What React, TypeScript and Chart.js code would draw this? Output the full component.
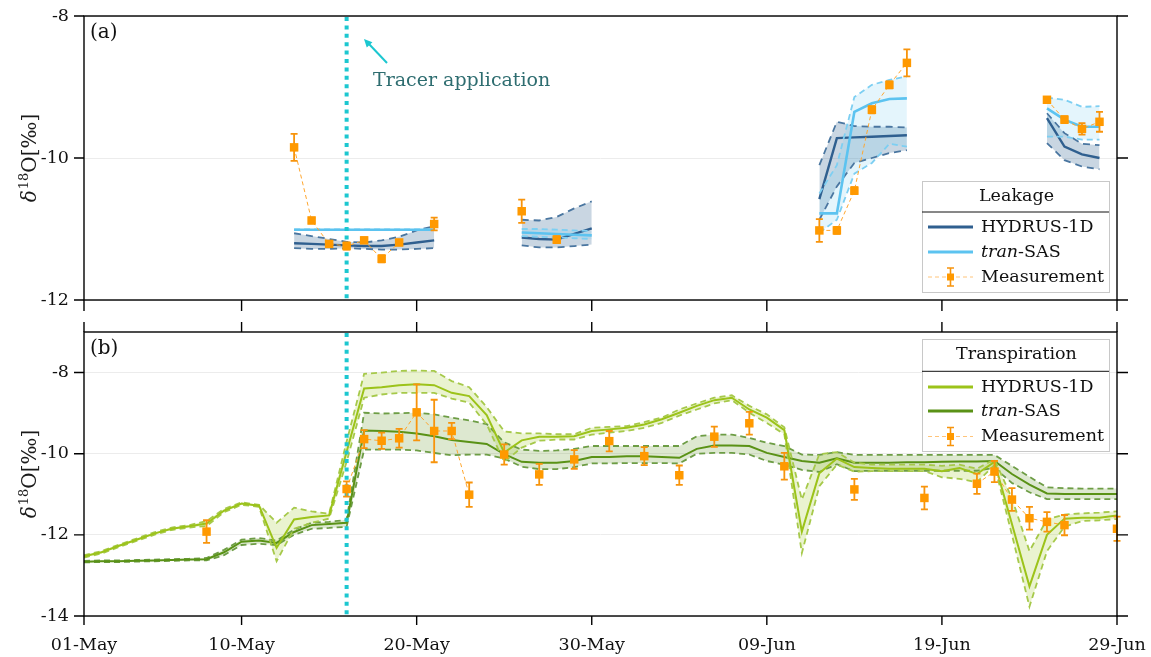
import { useEffect, useRef } from 'react';
import { Chart, registerables } from 'chart.js';

Chart.register(...registerables);

const FONT = '"DejaVu Serif", "Liberation Serif", serif';

// ---------- axes ----------
const X_TICKS = [0, 9, 19, 29, 39, 49, 59];
const X_TICK_LABELS = ['01-May', '10-May', '20-May', '30-May', '09-Jun', '19-Jun', '29-Jun'];
const TRACER_DAY = 15;
const Y_TICKS_A = [-12, -10, -8];
const Y_TICKS_B = [-14, -12, -10, -8];

// ---------- (a) Leakage ----------
const LEAK_DAYS = [
  [12, 13, 14, 15, 16, 17, 18, 19, 20],
  [25, 26, 27, 28, 29],
  [42, 43, 44, 45, 46, 47],
  [55, 56, 57, 58],
];
const LEAK_HYDRUS_MEAN = [
  [-11.2, -11.21, -11.22, -11.23, -11.24, -11.24, -11.22, -11.19, -11.16],
  [-11.12, -11.14, -11.15, -11.07, -10.99],
  [-10.58, -9.72, -9.71, -9.7, -9.69, -9.68],
  [-9.44, -9.84, -9.95, -10.0],
];
const LEAK_HYDRUS_UP = [
  [-11.06, -11.1, -11.14, -11.18, -11.19, -11.16, -11.11, -11.02, -10.96],
  [-10.87, -10.88, -10.83, -10.71, -10.61],
  [-10.1, -9.49, -9.55, -9.56, -9.56, -9.57],
  [-9.37, -9.65, -9.8, -9.82],
];
const LEAK_HYDRUS_LOW = [
  [-11.27, -11.28, -11.28, -11.27, -11.28, -11.29, -11.29, -11.28, -11.27],
  [-11.23, -11.26, -11.26, -11.24, -11.22],
  [-10.87, -10.4, -10.07, -10.0, -9.93, -9.89],
  [-9.79, -10.03, -10.12, -10.16],
];
const LEAK_TRAN_MEAN = [
  [-11.01, -11.01, -11.01, -11.01, -11.01, -11.01, -11.01, -11.01, -11.01],
  [-11.05, -11.06, -11.07, -11.08, -11.09],
  [-10.78, -10.78, -9.35, -9.23, -9.17, -9.16],
  [-9.3, -9.46, -9.56, -9.56],
];
const LEAK_TRAN_UP = [
  [-11.006, -11.006, -11.006, -11.006, -11.006, -11.006, -11.006, -11.006, -11.006],
  [-11.0, -11.0, -11.01, -11.02, -11.03],
  [-10.5, -10.1, -9.14, -8.97, -8.9, -8.85],
  [-9.15, -9.18, -9.28, -9.27],
];
const LEAK_TRAN_LOW = [
  [-11.014, -11.014, -11.014, -11.014, -11.014, -11.014, -11.014, -11.014, -11.014],
  [-11.1, -11.11, -11.12, -11.13, -11.14],
  [-11.05, -10.87, -10.22, -10.07, -9.8, -9.84],
  [-9.7, -9.7, -9.74, -9.74],
];
const LEAK_MEAS_DAYS = [12, 13, 14, 15, 16, 17, 18, 20, 25, 27, 42, 43, 44, 45, 46, 47, 55, 56, 57, 58];
const LEAK_MEAS_VALS = [-9.85, -10.88, -11.21, -11.24, -11.16, -11.42, -11.19, -10.93, -10.75, -11.15,
  -11.02, -11.02, -10.46, -9.32, -8.97, -8.66, -9.18, -9.46, -9.59, -9.49];
const LEAK_MEAS_ERR = [0.19, 0.04, 0.04, 0.05, 0.04, 0.05, 0.04, 0.09, 0.165, 0.05,
  0.16, 0.05, 0.05, 0.05, 0.05, 0.19, 0.04, 0.05, 0.08, 0.14];

// ---------- (b) Transpiration (daily, 01-May .. 29-Jun) ----------
const TR_DAYS = Array.from({ length: 60 }, (_, i) => i);
const TR_HYDRUS_MEAN = [
  -12.53, -12.43, -12.27, -12.12, -11.97, -11.85, -11.79, -11.72, -11.40, -11.23,
  -11.28, -12.32, -11.62, -11.56, -11.52, -9.95, -8.39, -8.36, -8.31, -8.29,
  -8.31, -8.50, -8.58, -9.05, -9.97, -9.67, -9.58, -9.58, -9.57, -9.44,
  -9.40, -9.36, -9.28, -9.15, -8.99, -8.82, -8.68, -8.62, -8.91, -9.11,
  -9.42, -11.92, -10.48, -10.12, -10.33, -10.35, -10.37, -10.37, -10.37, -10.43,
  -10.35, -10.50, -10.20, -11.73, -13.27, -12.00, -11.60, -11.58, -11.58, -11.52,
];
const TR_HYDRUS_UP = [
  -12.50, -12.40, -12.24, -12.09, -11.94, -11.82, -11.76, -11.66, -11.36, -11.20,
  -11.26, -11.70, -11.33, -11.42, -11.48, -9.70, -8.03, -8.00, -7.96, -7.95,
  -7.96, -8.21, -8.36, -8.85, -9.45, -9.50, -9.50, -9.52, -9.52, -9.36,
  -9.34, -9.32, -9.22, -9.11, -8.91, -8.76, -8.62, -8.56, -8.82, -9.03,
  -9.35, -11.13, -10.01, -9.96, -10.22, -10.27, -10.27, -10.27, -10.27, -10.30,
  -10.27, -10.37, -10.14, -11.10, -12.40, -11.62, -11.50, -11.47, -11.45, -11.42,
];
const TR_HYDRUS_LOW = [
  -12.56, -12.46, -12.30, -12.15, -12.00, -11.88, -11.82, -11.78, -11.44, -11.26,
  -11.31, -12.65, -11.85, -11.70, -11.60, -10.20, -8.62, -8.54, -8.50, -8.50,
  -8.50, -8.64, -8.74, -9.28, -10.20, -9.85, -9.68, -9.65, -9.65, -9.53,
  -9.48, -9.44, -9.36, -9.24, -9.06, -8.91, -8.76, -8.68, -8.99, -9.24,
  -9.52, -12.45, -10.80, -10.27, -10.44, -10.43, -10.43, -10.43, -10.43, -10.58,
  -10.62, -10.70, -10.28, -12.00, -13.77, -12.40, -11.80, -11.66, -11.64, -11.61,
];
const TR_TRAN_MEAN = [
  -12.66, -12.65, -12.65, -12.64, -12.63, -12.62, -12.61, -12.60, -12.43, -12.17,
  -12.14, -12.20, -11.93, -11.76, -11.73, -11.70, -9.43, -9.44, -9.46, -9.50,
  -9.57, -9.66, -9.71, -9.76, -10.01, -10.20, -10.22, -10.22, -10.18, -10.08,
  -10.08, -10.06, -10.06, -10.08, -10.10, -9.88, -9.80, -9.80, -9.81, -9.98,
  -10.08, -10.18, -10.22, -10.11, -10.22, -10.22, -10.22, -10.21, -10.21, -10.20,
  -10.19, -10.19, -10.18, -10.50, -10.76, -10.98, -10.99, -10.99, -10.99, -10.99,
];
const TR_TRAN_UP = [
  -12.64, -12.63, -12.63, -12.62, -12.61, -12.60, -12.59, -12.57, -12.37, -12.12,
  -12.08, -12.14, -11.87, -11.70, -11.68, -11.63, -8.99, -9.01, -9.00, -8.99,
  -9.03, -9.11, -9.18, -9.27, -9.72, -9.90, -9.93, -9.92, -9.88, -9.81,
  -9.81, -9.81, -9.81, -9.81, -9.81, -9.57, -9.53, -9.53, -9.61, -9.73,
  -9.81, -10.02, -10.03, -9.96, -10.03, -10.03, -10.03, -10.03, -10.03, -10.03,
  -10.03, -10.03, -10.03, -10.30, -10.57, -10.83, -10.85, -10.86, -10.86, -10.86,
];
const TR_TRAN_LOW = [
  -12.68, -12.67, -12.67, -12.66, -12.65, -12.64, -12.63, -12.63, -12.50, -12.25,
  -12.22, -12.25, -12.00, -11.85, -11.83, -11.80, -9.90, -9.90, -9.90, -9.92,
  -9.98, -10.04, -10.02, -10.02, -10.12, -10.32, -10.38, -10.38, -10.33, -10.24,
  -10.24, -10.23, -10.23, -10.23, -10.24, -10.00, -9.98, -9.98, -10.02, -10.18,
  -10.27, -10.40, -10.45, -10.26, -10.43, -10.42, -10.42, -10.42, -10.42, -10.42,
  -10.42, -10.42, -10.35, -10.72, -10.95, -11.12, -11.12, -11.12, -11.12, -11.12,
];
const TR_MEAS_DAYS = [7, 15, 16, 17, 18, 19, 20, 21, 22, 24, 26, 28, 30, 32, 34, 36, 38, 40, 44, 48, 51, 52, 53, 54, 55, 56, 59];
const TR_MEAS_VALS = [-11.92, -10.87, -9.64, -9.68, -9.62, -8.98, -9.44, -9.44, -11.01, -10.02, -10.51, -10.14,
  -9.69, -10.06, -10.53, -9.58, -9.25, -10.31, -10.88, -11.09, -10.74, -10.44, -11.13, -11.59, -11.68, -11.76, -11.85];
const TR_MEAS_ERR = [0.28, 0.19, 0.22, 0.2, 0.23, 0.69, 0.77, 0.2, 0.3, 0.25, 0.26, 0.23,
  0.25, 0.22, 0.24, 0.25, 0.28, 0.33, 0.26, 0.28, 0.25, 0.26, 0.28, 0.28, 0.24, 0.25, 0.3];

// ---------- styles ----------
const LEAK_H = { line: '#2f5f8f', dash: '#4a76a0', fill: 'rgba(47,95,143,0.26)', w: 2.4 };
const LEAK_T = { line: '#5cc3f0', dash: '#7dcff2', fill: 'rgba(120,205,240,0.2)', w: 2.6 };
const TR_H = { line: '#9cc31a', dash: '#a6c94a', fill: 'rgba(160,200,40,0.22)', w: 2 };
const TR_T = { line: '#5a9216', dash: '#6d9d45', fill: 'rgba(100,150,40,0.22)', w: 2 };
const ORANGE = '#ff9900';
const ORANGE_BAR = '#f7940c';
const CYAN = '#1cc7d0';
const TEXT = '#111';

function pts(days: number[], vals: number[]) {
  return days.map((d, i) => ({ x: d, y: vals[i] }));
}

function measPts(days: number[], vals: number[]) {
  const out: { x: number; y: number | null }[] = [];
  for (let d = 0; d <= 59; d++) {
    const i = days.indexOf(d);
    out.push({ x: d, y: i >= 0 ? vals[i] : null });
  }
  return out;
}

function addBand(list: any[], days: number[], mean: number[], up: number[], low: number[], col: any, order: number, dash: number[]) {
  const iUp = list.length;
  list.push({
    data: pts(days, up), borderColor: col.dash, borderWidth: 1.8, borderDash: dash,
    pointRadius: 0, fill: iUp + 1, backgroundColor: col.fill, order: order + 1,
  });
  list.push({
    data: pts(days, low), borderColor: col.dash, borderWidth: 1.8, borderDash: dash,
    pointRadius: 0, fill: false, order: order + 1,
  });
  list.push({
    data: pts(days, mean), borderColor: col.line, borderWidth: col.w, pointRadius: 0, fill: false, order,
  });
}

function measDataset(days: number[], vals: number[], err: number[]) {
  return {
    data: measPts(days, vals), borderColor: '#ffa62e', borderWidth: 1, borderDash: [4, 3],
    pointStyle: 'rect', pointRadius: 6, pointBackgroundColor: ORANGE, pointBorderColor: ORANGE,
    pointBorderWidth: 0, spanGaps: false, fill: false, order: 0,
    _meas: true, _days: days, _vals: vals, _err: err,
  };
}

function drawLegend(ctx: CanvasRenderingContext2D, box: number[], title: string, titleY: number, sepY: number,
  rowsY: number[], hCol: string, tCol: string) {
  const [x0, y0, x1, y1] = box;
  ctx.save();
  ctx.fillStyle = '#fff';
  ctx.fillRect(x0, y0, x1 - x0, y1 - y0);
  ctx.strokeStyle = '#c8c8c8';
  ctx.lineWidth = 1;
  ctx.strokeRect(x0 + 0.5, y0 + 0.5, x1 - x0, y1 - y0);
  ctx.strokeStyle = '#111';
  ctx.beginPath();
  ctx.moveTo(x0, sepY); ctx.lineTo(x1, sepY); ctx.stroke();
  ctx.fillStyle = TEXT;
  ctx.textBaseline = 'middle';
  ctx.textAlign = 'center';
  ctx.font = `17.5px ${FONT}`;
  ctx.fillText(title, (x0 + x1) / 2 + 1, titleY);
  ctx.textAlign = 'left';
  const lx0 = x0 + 6, lx1 = x0 + 51, tx = x0 + 59;
  ctx.strokeStyle = hCol; ctx.lineWidth = 3;
  ctx.beginPath(); ctx.moveTo(lx0, rowsY[0]); ctx.lineTo(lx1, rowsY[0]); ctx.stroke();
  ctx.fillText('HYDRUS-1D', tx, rowsY[0]);
  ctx.strokeStyle = tCol;
  ctx.beginPath(); ctx.moveTo(lx0, rowsY[1]); ctx.lineTo(lx1, rowsY[1]); ctx.stroke();
  ctx.font = `italic 17.5px ${FONT}`;
  ctx.fillText('tran', tx, rowsY[1]);
  const w = ctx.measureText('tran').width;
  ctx.font = `17.5px ${FONT}`;
  ctx.fillText('-SAS', tx + w, rowsY[1]);
  const ym = rowsY[2], xm = (lx0 + lx1) / 2;
  ctx.strokeStyle = '#ffc47a'; ctx.lineWidth = 1; ctx.setLineDash([4, 3]);
  ctx.beginPath(); ctx.moveTo(lx0, ym); ctx.lineTo(lx1, ym); ctx.stroke();
  ctx.setLineDash([]);
  ctx.strokeStyle = ORANGE_BAR; ctx.lineWidth = 1.6;
  ctx.beginPath();
  ctx.moveTo(xm, ym - 9); ctx.lineTo(xm, ym + 9);
  ctx.moveTo(xm - 3.5, ym - 9); ctx.lineTo(xm + 3.5, ym - 9);
  ctx.moveTo(xm - 3.5, ym + 9); ctx.lineTo(xm + 3.5, ym + 9);
  ctx.stroke();
  ctx.fillStyle = ORANGE;
  ctx.fillRect(xm - 3.5, ym - 3.5, 7, 7);
  ctx.fillStyle = TEXT;
  ctx.fillText('Measurement', tx, ym);
  ctx.restore();
}

function drawYTitle(ctx: CanvasRenderingContext2D, cx: number, cy: number) {
  ctx.save();
  ctx.translate(cx, cy);
  ctx.rotate(-Math.PI / 2);
  ctx.fillStyle = '#1a1a1a';
  ctx.textBaseline = 'alphabetic';
  ctx.textAlign = 'left';
  const f1 = `italic 20px ${FONT}`, f2 = `13px ${FONT}`, f3 = `20px ${FONT}`;
  ctx.font = f1; const w1 = ctx.measureText('δ').width;
  ctx.font = f2; const w2 = ctx.measureText('18').width;
  ctx.font = f3; const w3 = ctx.measureText('O[‰]').width;
  let x = -(w1 + w2 + w3 + 1) / 2;
  ctx.font = f1; ctx.fillText('δ', x, 0); x += w1 + 1;
  ctx.font = f2; ctx.fillText('18', x, -8); x += w2;
  ctx.font = f3; ctx.fillText('O[‰]', x, 0);
  ctx.restore();
}

function makeDecor(panel: 'a' | 'b') {
  const yTicks = panel === 'a' ? Y_TICKS_A : Y_TICKS_B;
  return {
    id: 'decor' + panel,
    beforeDatasetDraw(chart: any, args: any) {
      const ds = chart.data.datasets[args.index];
      if (!ds._meas) return;
      const { ctx, chartArea: ca, scales } = chart;
      ctx.save();
      const xc = scales.x.getPixelForValue(TRACER_DAY);
      ctx.strokeStyle = CYAN; ctx.lineWidth = 4; ctx.setLineDash([4, 4.4]);
      ctx.beginPath(); ctx.moveTo(xc, ca.top + 1); ctx.lineTo(xc, ca.bottom); ctx.stroke();
      ctx.setLineDash([]);
      ctx.strokeStyle = ORANGE_BAR; ctx.lineWidth = 1.8;
      ctx.beginPath();
      ds._days.forEach((d: number, i: number) => {
        const x = scales.x.getPixelForValue(d);
        const y1 = scales.y.getPixelForValue(ds._vals[i] + ds._err[i]);
        const y2 = scales.y.getPixelForValue(ds._vals[i] - ds._err[i]);
        ctx.moveTo(x, y1); ctx.lineTo(x, y2);
        ctx.moveTo(x - 3.5, y1); ctx.lineTo(x + 3.5, y1);
        ctx.moveTo(x - 3.5, y2); ctx.lineTo(x + 3.5, y2);
      });
      ctx.stroke();
      ctx.restore();
    },
    afterDraw(chart: any) {
      const { ctx, chartArea: ca, scales } = chart;
      ctx.save();
      ctx.strokeStyle = '#000'; ctx.lineWidth = 1.4;
      ctx.strokeRect(ca.left, ca.top, ca.right - ca.left, ca.bottom - ca.top);
      ctx.beginPath();
      yTicks.forEach((v) => {
        const y = scales.y.getPixelForValue(v);
        ctx.moveTo(ca.left - 10, y); ctx.lineTo(ca.left, y);
        ctx.moveTo(ca.right, y); ctx.lineTo(ca.right + 11, y);
      });
      X_TICKS.forEach((v) => {
        const x = scales.x.getPixelForValue(v);
        ctx.moveTo(x, ca.bottom); ctx.lineTo(x, ca.bottom + (panel === 'a' ? 11 : 9));
        if (panel === 'b') { ctx.moveTo(x, ca.top - 10); ctx.lineTo(x, ca.top); }
      });
      ctx.stroke();
      ctx.fillStyle = TEXT;
      ctx.font = `20px ${FONT}`;
      ctx.textAlign = 'left';
      ctx.textBaseline = 'alphabetic';
      ctx.fillText(panel === 'a' ? '(a)' : '(b)', ca.left + 6, ca.top + 22);
      drawYTitle(ctx, 36, (ca.top + ca.bottom) / 2);
      if (panel === 'a') {
        ctx.fillStyle = '#2e6d70';
        ctx.font = `19px ${FONT}`;
        ctx.fillText('Tracer application', 373, 86);
        ctx.strokeStyle = CYAN; ctx.fillStyle = CYAN; ctx.lineWidth = 2;
        ctx.beginPath(); ctx.moveTo(387, 63); ctx.lineTo(369, 44); ctx.stroke();
        const ang = Math.atan2(40 - 63, 365 - 387);
        ctx.beginPath();
        ctx.moveTo(364, 39);
        ctx.lineTo(364 - 9 * Math.cos(ang - 0.45), 39 - 9 * Math.sin(ang - 0.45));
        ctx.lineTo(364 - 9 * Math.cos(ang + 0.45), 39 - 9 * Math.sin(ang + 0.45));
        ctx.closePath(); ctx.fill();
        drawLegend(ctx, [922, 181, 1109, 292], 'Leakage', 196, 212, [227, 252, 277], LEAK_H.line, LEAK_T.line);
      } else {
        drawLegend(ctx, [922, 23, 1109, 135], 'Transpiration', 38.5, 55.3, [71, 95, 120.5], TR_H.line, TR_T.line);
      }
      ctx.restore();
    },
  };
}

function makeConfig(panel: 'a' | 'b'): any {
  const datasets: any[] = [];
  datasets.push(
    panel === 'a'
      ? measDataset(LEAK_MEAS_DAYS, LEAK_MEAS_VALS, LEAK_MEAS_ERR)
      : measDataset(TR_MEAS_DAYS, TR_MEAS_VALS, TR_MEAS_ERR),
  );
  if (panel === 'a') {
    LEAK_DAYS.forEach((days, g) => {
      addBand(datasets, days, LEAK_TRAN_MEAN[g], LEAK_TRAN_UP[g], LEAK_TRAN_LOW[g], LEAK_T, 2, [6, 4]);
    });
    LEAK_DAYS.forEach((days, g) => {
      addBand(datasets, days, LEAK_HYDRUS_MEAN[g], LEAK_HYDRUS_UP[g], LEAK_HYDRUS_LOW[g], LEAK_H, 4, [7, 5]);
    });
  } else {
    addBand(datasets, TR_DAYS, TR_HYDRUS_MEAN, TR_HYDRUS_UP, TR_HYDRUS_LOW, TR_H, 2, [6, 4]);
    addBand(datasets, TR_DAYS, TR_TRAN_MEAN, TR_TRAN_UP, TR_TRAN_LOW, TR_T, 4, [6, 4]);
  }
  const yTicks = panel === 'a' ? Y_TICKS_A : Y_TICKS_B;
  return {
    type: 'line',
    data: { datasets },
    plugins: [makeDecor(panel)],
    options: {
      responsive: false,
      animation: false,
      devicePixelRatio: 1,
      events: [],
      layout: { padding: { top: 16, right: 34, left: 0, bottom: 0 } },
      elements: { line: { tension: 0 } },
      plugins: {
        legend: { display: false },
        tooltip: { enabled: false },
        filler: { drawTime: 'beforeDatasetsDraw' },
      },
      scales: {
        x: {
          type: 'linear', min: 0, max: 59,
          afterBuildTicks: (s: any) => { s.ticks = X_TICKS.map((v) => ({ value: v })); },
          afterFit: (s: any) => {
            s.height = panel === 'a' ? 16 : 41;
            s.paddingLeft = 0; s.paddingRight = 0;
          },
          grid: { display: false, drawTicks: false },
          border: { display: false },
          ticks: {
            display: panel === 'b', autoSkip: false, maxRotation: 0, padding: 19,
            color: TEXT, font: { family: FONT, size: 17.5 },
            callback: (v: number) => X_TICK_LABELS[X_TICKS.indexOf(v)],
          },
        },
        y: {
          type: 'linear',
          min: panel === 'a' ? -12 : -14,
          max: panel === 'a' ? -8 : -7,
          afterBuildTicks: (s: any) => { s.ticks = yTicks.map((v) => ({ value: v })); },
          afterFit: (s: any) => { s.width = 84; s.paddingTop = 0; s.paddingBottom = 0; },
          grid: { color: '#ececec', lineWidth: 1, drawTicks: false },
          border: { display: false },
          ticks: { padding: 15, color: TEXT, font: { family: FONT, size: 17.5 } },
        },
      },
    },
  };
}

export default function App() {
  const ref1 = useRef<HTMLCanvasElement>(null);
  const ref2 = useRef<HTMLCanvasElement>(null);
  useEffect(() => {
    document.body.style.margin = '0';
    const c1 = new Chart(ref1.current as HTMLCanvasElement, makeConfig('a'));
    const c2 = new Chart(ref2.current as HTMLCanvasElement, makeConfig('b'));
    return () => { c1.destroy(); c2.destroy(); };
  }, []);
  return (
    <div style={{ position: 'fixed', left: 0, top: 0, width: 1151, height: 657, background: '#fff', overflow: 'hidden' }}>
      <canvas ref={ref1} width={1151} height={316}
        style={{ position: 'absolute', left: 0, top: 0, width: 1151, height: 316 }} />
      <canvas ref={ref2} width={1151} height={341}
        style={{ position: 'absolute', left: 0, top: 316, width: 1151, height: 341 }} />
    </div>
  );
}
